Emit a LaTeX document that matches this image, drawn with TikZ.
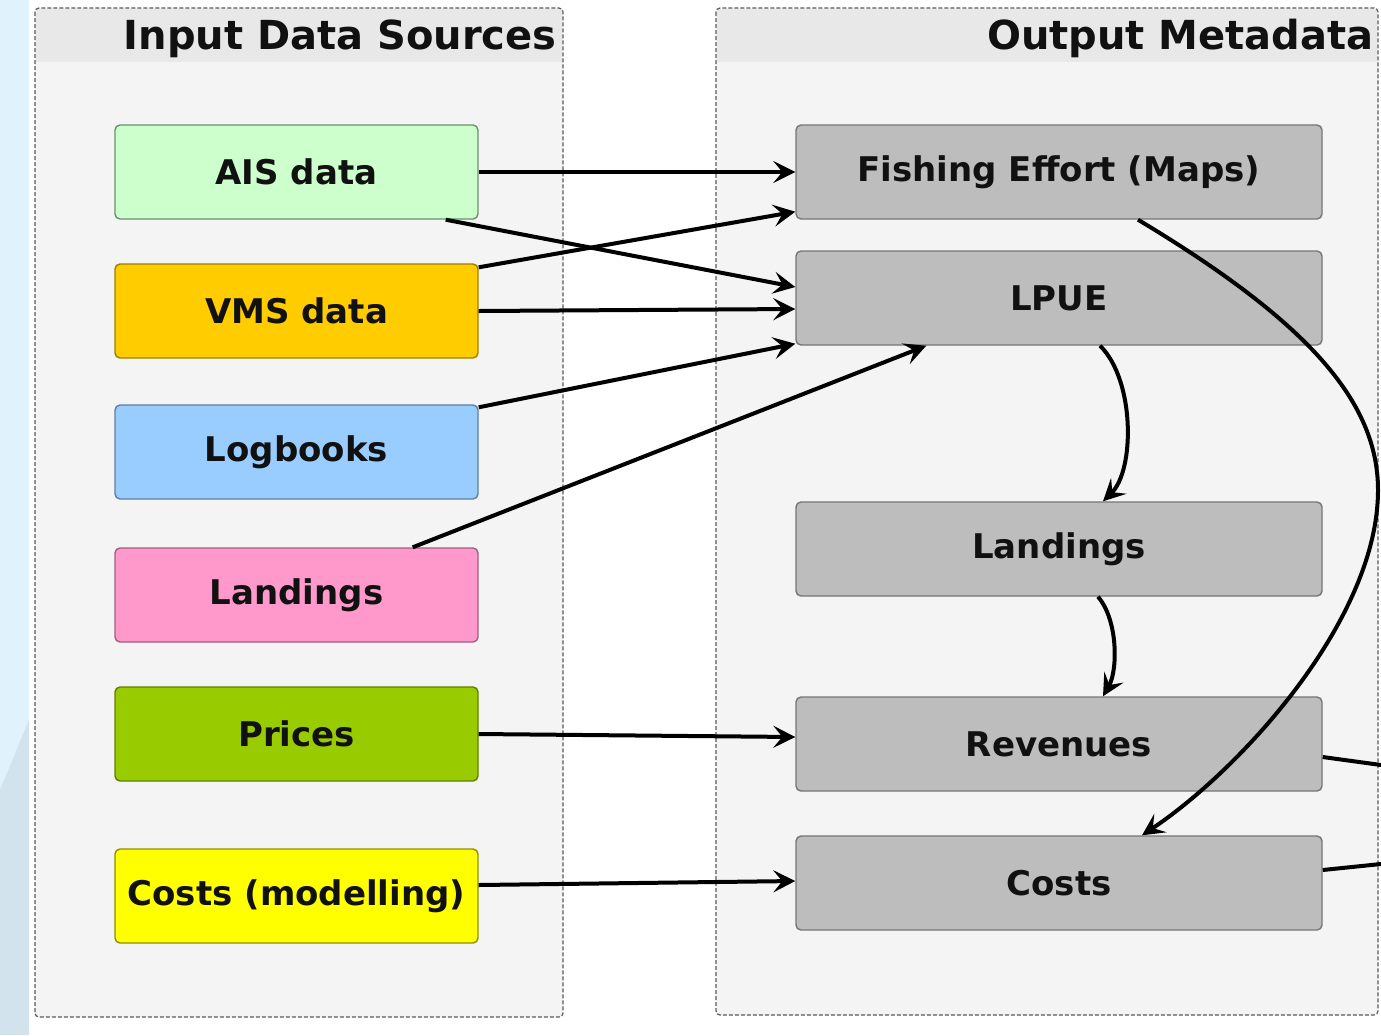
\documentclass[tikz,border=0pt]{standalone}
\usepackage{fontspec}
\setmainfont{DejaVu Sans}
\usetikzlibrary{arrows.meta,calc}

\definecolor{txt}{HTML}{111111}
\definecolor{panelfill}{HTML}{F4F4F4}
\definecolor{panelhead}{HTML}{E8E8E8}
\definecolor{panelline}{HTML}{5A5A5A}
\definecolor{stripA}{HTML}{E0F2FC}
\definecolor{stripB}{HTML}{D2E3EE}
\definecolor{aisF}{HTML}{CCFFCC}\definecolor{aisD}{HTML}{6E8F6E}
\definecolor{vmsF}{HTML}{FFCC00}\definecolor{vmsD}{HTML}{9E7F00}
\definecolor{logF}{HTML}{99CCFF}\definecolor{logD}{HTML}{5F7F9F}
\definecolor{landF}{HTML}{FF99CC}\definecolor{landD}{HTML}{9F5F7F}
\definecolor{priF}{HTML}{99CC00}\definecolor{priD}{HTML}{5F7F00}
\definecolor{cstF}{HTML}{FFFF00}\definecolor{cstD}{HTML}{8F8F00}
\definecolor{boxgray}{HTML}{BDBDBD}\definecolor{boxgrayd}{HTML}{767676}

\begin{document}
\begin{tikzpicture}[x=0.5pt,y=-0.5pt,
  srcbox/.style={draw, line width=0.7pt, rounded corners=2.5pt,
    minimum width=181.5pt, minimum height=47pt, inner sep=0pt,
    font=\fontsize{17}{20}\selectfont\bfseries, text=txt},
  outbox/.style={srcbox, fill=boxgray, draw=boxgrayd, minimum width=263pt},
  flow/.style={line width=2pt,
    -{Stealth[length=11pt,width=11pt,inset=4.5pt]}},
  link/.style={line width=2pt},
  panel/.style={draw=panelline, dash pattern=on 2pt off 1pt,
    line width=0.6pt, rounded corners=2pt},
  title/.style={font=\fontsize{20}{24}\selectfont\bfseries, text=txt,
    inner sep=0pt, anchor=base east}]

\useasboundingbox (0,0) rectangle (1381,1035);
\fill[white] (0,0) rectangle (1381,1035);

% slide background strip on the left
\fill[stripA] (0,0) rectangle (29,1035);
\fill[stripB] (0,790) -- (29,720) -- (29,1035) -- (0,1035) -- cycle;

% group panels
\fill[panelfill, rounded corners=2pt] (35,8) rectangle (563,1017);
\fill[panelhead] (36,9) rectangle (562,62);
\draw[panel] (35,8) rectangle (563,1017);
\fill[panelfill, rounded corners=2pt] (716,8) rectangle (1378,1015);
\fill[panelhead] (717,9) rectangle (1377,62);
\draw[panel] (716,8) rectangle (1378,1015);

\node[title] (intitle) at (557,49) {Input Data Sources};
\node[title] (outtitle) at (1374,49) {Output Metadata};

% input data sources
\node[srcbox, fill=aisF, draw=aisD]   (ais)    at (296.5,172) {AIS data};
\node[srcbox, fill=vmsF, draw=vmsD]   (vms)    at (296.5,311) {VMS data};
\node[srcbox, fill=logF, draw=logD]   (log)    at (296.5,452) {Logbooks};
\node[srcbox, fill=landF, draw=landD] (landin) at (296.5,595) {Landings};
\node[srcbox, fill=priF, draw=priD]   (prices) at (296.5,734) {Prices};
\node[srcbox, fill=cstF, draw=cstD]   (costin) at (296.5,896) {Costs (modelling)};

% output metadata
\node[outbox] (fe)      at (1059,172) {Fishing Effort (Maps)};
\node[outbox] (lpue)    at (1059,298) {LPUE};
\node[outbox] (landout) at (1059,549) {Landings};
\node[outbox] (rev)     at (1059,744) {Revenues};
\node[outbox] (costs)   at (1059,883) {Costs};

% links leaving to the right
\coordinate (revexit) at (1381,765);
\coordinate (costexit) at (1381,864);
\coordinate (apex) at (1378,490);

% inputs to outputs
\draw[flow] (ais.east) -- (fe.west);
\draw[flow] ($(ais.south east)+(-33,0)$) -- ($(lpue.west)+(0,-11)$);
\draw[flow] ($(vms.north east)+(0,4)$) -- ($(fe.south west)+(0,-8)$);
\draw[flow] (vms.east) -- ($(lpue.west)+(0,11)$);
\draw[flow] ($(log.north east)+(0,3)$) -- ($(lpue.south west)+(0,-2)$);
\draw[flow] ($(landin.north east)+(-66,0)$) -- ($(lpue.south west)+(131,0)$);
\draw[flow] (prices.east) -- ($(rev.west)+(0,-7)$);
\draw[flow] ($(costin.east)+(0,-11)$) -- ($(costs.west)+(0,-2)$);

% derived outputs
\draw[flow] ($(lpue.south)+(41,0)$) .. controls (1135,380) and (1135,470) .. ($(landout.north)+(44,0)$);
\draw[flow] ($(landout.south)+(39,0)$) .. controls (1118,620) and (1118,670) .. ($(rev.north)+(44,0)$);
\draw[flow] ($(fe.south)+(79,0)$) .. controls (1305,320) and (1378,400) .. (apex)
  .. controls (1378,620) and (1240,770) .. ($(costs.north)+(83,0)$);

\draw[link] ($(rev.east)+(0,13)$) -- (revexit);
\draw[link] ($(costs.east)+(0,-13)$) -- (costexit);
\end{tikzpicture}
\end{document}
